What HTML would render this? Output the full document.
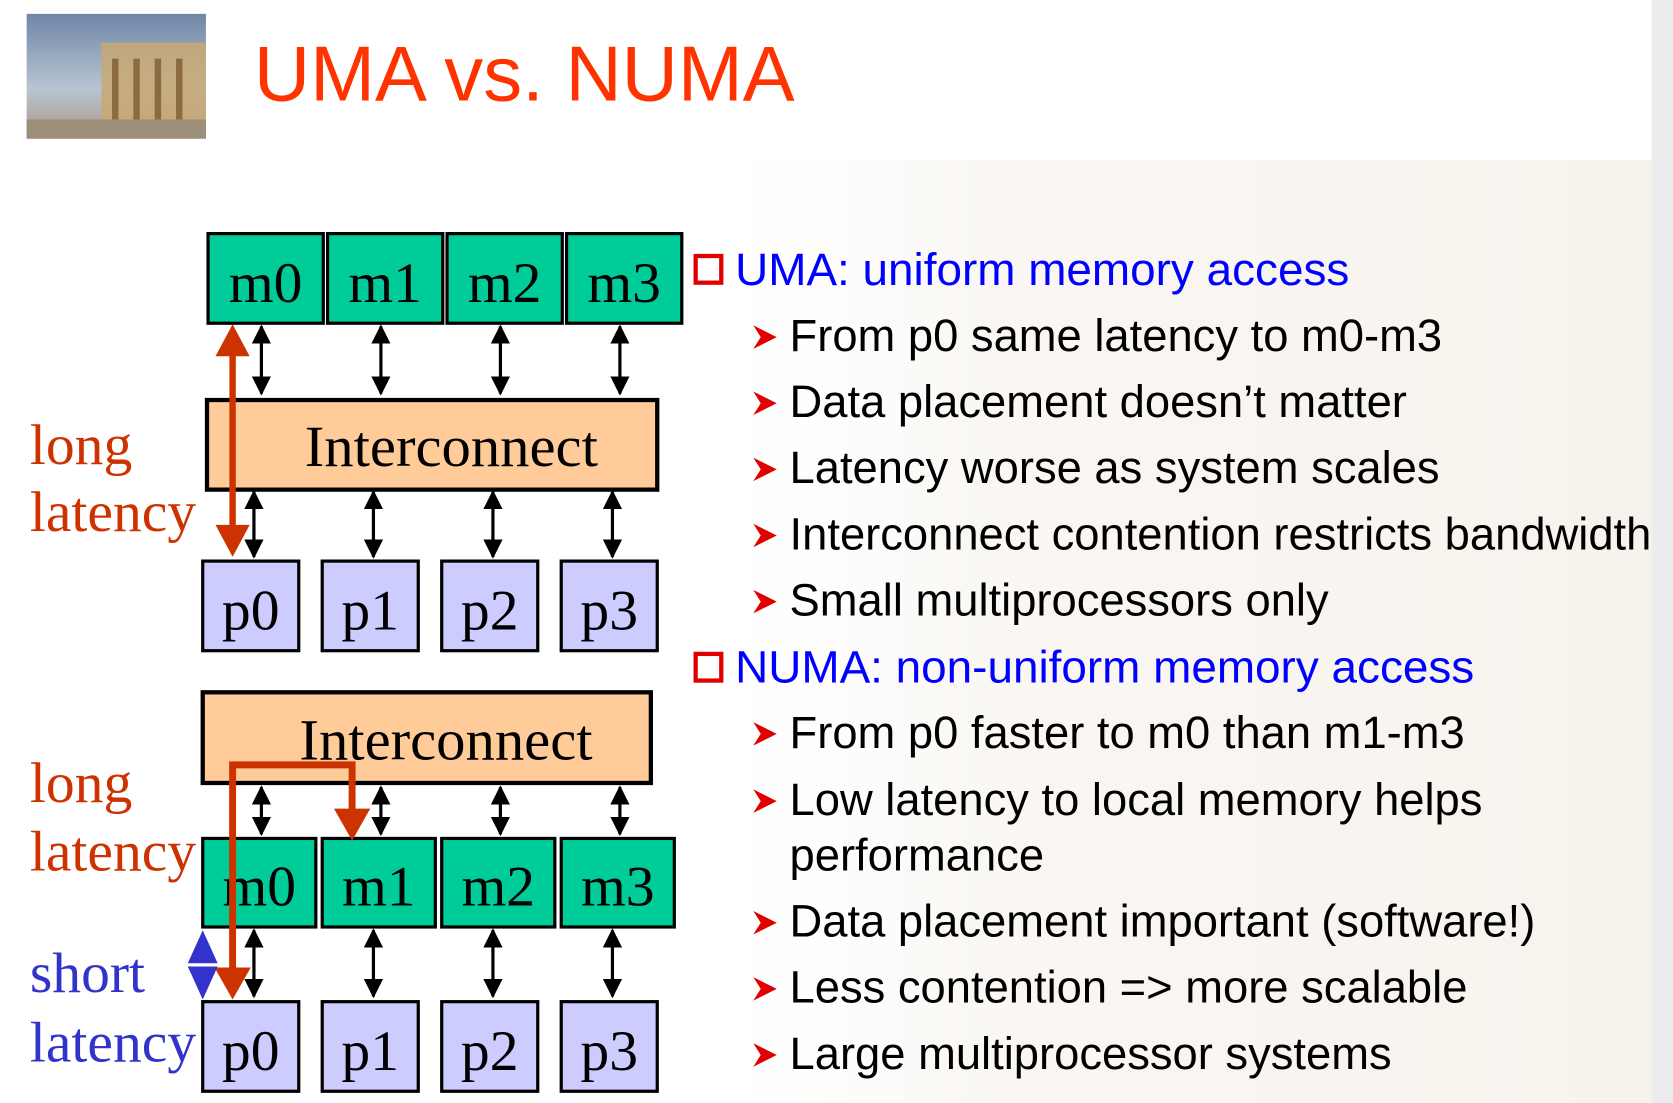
<!DOCTYPE html>
<html><head><meta charset="utf-8"><style>
html,body{margin:0;padding:0;background:#fff;}
svg{display:block;}
</style></head><body>
<svg width="1673" height="1103" viewBox="0 0 1568 1034" preserveAspectRatio="none" xmlns="http://www.w3.org/2000/svg">
<defs>
<linearGradient id="bg" x1="0" y1="0" x2="1" y2="0">
<stop offset="0" stop-color="#fff" stop-opacity="0"/>
<stop offset="0.3" stop-color="#efe6da" stop-opacity="0.3"/>
<stop offset="1" stop-color="#ece2d4" stop-opacity="0.45"/>
</linearGradient>
<linearGradient id="sky" x1="0" y1="0" x2="0" y2="1">
<stop offset="0" stop-color="#6f86a8"/><stop offset="0.6" stop-color="#b9c4d3"/><stop offset="1" stop-color="#a89a80"/>
</linearGradient>
<marker id="ah" viewBox="0 0 10 10" refX="9" refY="5" markerWidth="6" markerHeight="6" orient="auto-start-reverse"><path d="M0,0L10,5L0,10z" fill="#000"/></marker>
</defs>
<rect x="0" y="0" width="1568" height="1034" fill="#fff"/>
<rect x="640" y="150" width="908" height="884" fill="url(#bg)"/>
<rect x="1548" y="0" width="20" height="1034" fill="#ececee"/>
<!-- photo -->
<rect x="25" y="13" width="168" height="117" fill="url(#sky)"/>
<rect x="95" y="40" width="98" height="80" fill="#c9a873" opacity="0.85"/>
<g fill="#8a6c40"><rect x="105" y="55" width="6" height="62"/><rect x="125" y="55" width="6" height="62"/><rect x="145" y="55" width="6" height="62"/><rect x="165" y="55" width="6" height="62"/></g>
<rect x="25" y="112" width="168" height="18" fill="#9c8e78"/>
<text x="238" y="94" font-family="Liberation Sans, sans-serif" font-size="73" fill="#ff3300">UMA vs. NUMA</text>

<g font-family="Liberation Serif, serif" font-size="54" text-anchor="middle">
<!-- UMA -->
<g stroke="#000" stroke-width="3" fill="#00cc99">
<rect x="195" y="219" width="108" height="84"/><rect x="307" y="219" width="108" height="84"/><rect x="419" y="219" width="108" height="84"/><rect x="531" y="219" width="108" height="84"/>
</g>
<text x="249" y="283">m0</text><text x="361" y="283">m1</text><text x="473" y="283">m2</text><text x="585" y="283">m3</text>
<g stroke="#000" stroke-width="3" marker-start="url(#ah)" marker-end="url(#ah)">
<line x1="245" y1="306" x2="245" y2="369"/><line x1="357" y1="306" x2="357" y2="369"/><line x1="469" y1="306" x2="469" y2="369"/><line x1="581" y1="306" x2="581" y2="369"/>
<line x1="238" y1="461" x2="238" y2="522"/><line x1="350" y1="461" x2="350" y2="522"/><line x1="462" y1="461" x2="462" y2="522"/><line x1="574" y1="461" x2="574" y2="522"/>
</g>
<rect x="194" y="375" width="422" height="84" fill="#ffcc99" stroke="#000" stroke-width="4"/>
<text x="423" y="437" font-size="55">Interconnect</text>
<g stroke="#000" stroke-width="3" fill="#ccccff">
<rect x="190" y="526" width="90" height="84"/><rect x="302" y="526" width="90" height="84"/><rect x="414" y="526" width="90" height="84"/><rect x="526" y="526" width="90" height="84"/>
</g>
<text x="235" y="590">p0</text><text x="347" y="590">p1</text><text x="459" y="590">p2</text><text x="571" y="590">p3</text>
<line x1="218" y1="328" x2="218" y2="498" stroke="#cc3300" stroke-width="6"/>
<path d="M202,334L218,304L234,334z M202,492L218,522L234,492z" fill="#cc3300"/>

<!-- NUMA -->
<rect x="190" y="649" width="420" height="85" fill="#ffcc99" stroke="#000" stroke-width="4"/>
<text x="418" y="712" font-size="55">Interconnect</text>
<g stroke="#000" stroke-width="3" marker-start="url(#ah)" marker-end="url(#ah)">
<line x1="245" y1="738" x2="245" y2="782"/><line x1="357" y1="738" x2="357" y2="782"/><line x1="469" y1="738" x2="469" y2="782"/><line x1="581" y1="738" x2="581" y2="782"/>
<line x1="238" y1="872" x2="238" y2="934"/><line x1="350" y1="872" x2="350" y2="934"/><line x1="462" y1="872" x2="462" y2="934"/><line x1="574" y1="872" x2="574" y2="934"/>
</g>
<g stroke="#000" stroke-width="3" fill="#00cc99">
<rect x="190" y="786" width="106" height="83"/><rect x="302" y="786" width="106" height="83"/><rect x="414" y="786" width="106" height="83"/><rect x="526" y="786" width="106" height="83"/>
</g>
<text x="243" y="849">m0</text><text x="355" y="849">m1</text><text x="467" y="849">m2</text><text x="579" y="849">m3</text>
<g stroke="#000" stroke-width="3" fill="#ccccff">
<rect x="190" y="939" width="90" height="84"/><rect x="302" y="939" width="90" height="84"/><rect x="414" y="939" width="90" height="84"/><rect x="526" y="939" width="90" height="84"/>
</g>
<text x="235" y="1003">p0</text><text x="347" y="1003">p1</text><text x="459" y="1003">p2</text><text x="571" y="1003">p3</text>
<path d="M218,910L218,717L330,717L330,762" fill="none" stroke="#cc3300" stroke-width="6.5"/>
<path d="M313,758L330,788L347,758z M201,907L218,937L235,907z" fill="#cc3300"/>
<path d="M176,903L190,872L204,903z M176,906L190,937L204,906z" fill="#3333cc"/>
</g>

<g font-family="Liberation Serif, serif" font-size="54">
<text x="28" y="435" fill="#cc3300">long</text>
<text x="28" y="498" fill="#cc3300">latency</text>
<text x="28" y="752" fill="#cc3300">long</text>
<text x="28" y="816" fill="#cc3300">latency</text>
<text x="28" y="930" fill="#3333cc">short</text>
<text x="28" y="995" fill="#3333cc">latency</text>
</g>

<!-- bullets -->
<g>
<rect x="652" y="240" width="24" height="25" fill="#fff" stroke="#e00000" stroke-width="4"/>
<rect x="652" y="613" width="24" height="25" fill="#fff" stroke="#e00000" stroke-width="4"/>
</g>
<g font-family="Liberation Sans, sans-serif" font-size="43" fill="#0000ff">
<text x="689" y="267">UMA: uniform memory access</text>
<text x="689" y="640">NUMA: non-uniform memory access</text>
</g>
<g fill="#e00000">
<path d="M706,305L728,316L706,327L713,316z"/>
<path d="M706,367L728,378L706,389L713,378z"/>
<path d="M706,429L728,440L706,451L713,440z"/>
<path d="M706,491L728,502L706,513L713,502z"/>
<path d="M706,553L728,564L706,575L713,564z"/>
<path d="M706,677L728,688L706,699L713,688z"/>
<path d="M706,740L728,751L706,762L713,751z"/>
<path d="M706,854L728,865L706,876L713,865z"/>
<path d="M706,916L728,927L706,938L713,927z"/>
<path d="M706,978L728,989L706,1000L713,989z"/>
</g>
<g font-family="Liberation Sans, sans-serif" font-size="42.5" fill="#000">
<text x="740" y="329">From p0 same latency to m0-m3</text>
<text x="740" y="391">Data placement doesn’t matter</text>
<text x="740" y="453">Latency worse as system scales</text>
<text x="740" y="515">Interconnect contention restricts bandwidth</text>
<text x="740" y="577">Small multiprocessors only</text>
<text x="740" y="701">From p0 faster to m0 than m1-m3</text>
<text x="740" y="764">Low latency to local memory helps</text>
<text x="740" y="816">performance</text>
<text x="740" y="878">Data placement important (software!)</text>
<text x="740" y="940">Less contention =&gt; more scalable</text>
<text x="740" y="1002">Large multiprocessor systems</text>
</g>
</svg>
</body></html>
